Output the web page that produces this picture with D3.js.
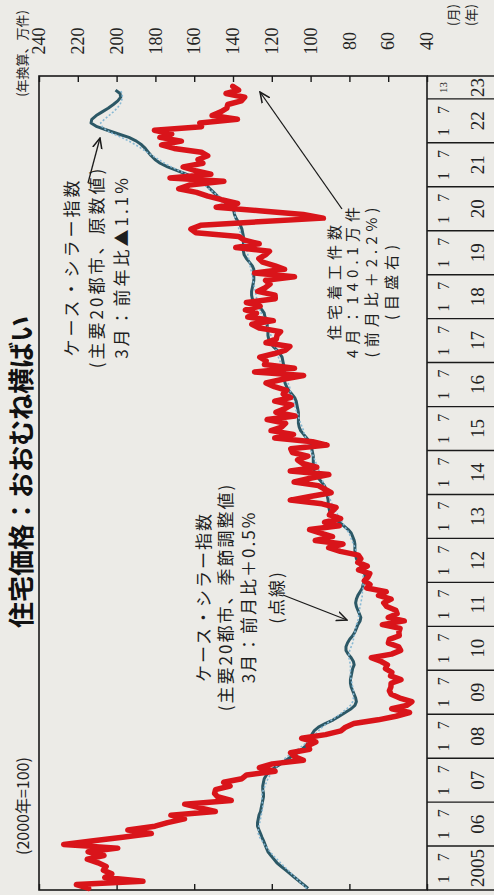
<!DOCTYPE html>
<html>
<head>
<meta charset="utf-8">
<script src="https://cdn.jsdelivr.net/npm/d3@7"></script>
<style>
  body { margin: 0; background: #ecebe7; }
  svg { display: block; }
</style>
</head>
<body>
<svg id="chart"></svg>
<script>
// housing starts, annualised, 万件 (monthly from 2005-01)
const housingStarts = [
  214.4, 220.7, 186.4, 206.1, 202.5, 206.8, 205.4, 209.5, 215.1, 206.5, 214.7, 199.4,
  227.3, 211.9, 196.9, 182.1, 194.2, 180.2, 173.7, 165.0, 172.0, 149.1, 157.0, 164.9,
  140.9, 148.0, 149.5, 149.0, 141.5, 144.8, 135.4, 133.0, 118.3, 126.4, 119.7, 103.7,
  108.4, 110.3, 100.5, 101.3, 97.3, 104.6, 92.3, 84.4, 82.0, 77.7, 65.2, 56.0,
  49.0, 58.2, 50.5, 47.8, 54.0, 58.5, 59.4, 58.6, 58.5, 53.4, 58.8, 58.1,
  61.4, 60.4, 63.6, 68.7, 58.3, 53.6, 54.6, 59.9, 59.4, 54.3, 54.5, 53.9,
  63.0, 51.7, 60.0, 55.4, 56.1, 60.8, 62.3, 58.5, 65.0, 61.0, 71.1, 69.4,
  72.3, 70.4, 69.5, 75.3, 70.8, 75.7, 74.1, 75.4, 84.7, 90.7, 83.3, 97.6,
  88.7, 95.2, 100.5, 85.2, 92.8, 84.5, 90.3, 88.9, 86.9, 94.1, 110.5, 100.3,
  89.4, 92.8, 96.0, 108.5, 100.2, 90.6, 110.5, 96.8, 104.1, 106.7, 101.4, 109.4,
  110.2, 91.5, 99.0, 118.5, 108.8, 120.4, 114.9, 112.9, 122.4, 108.0, 117.9, 113.2,
  109.8, 118.5, 110.3, 114.1, 112.4, 118.7, 123.0, 114.3, 103.6, 128.9, 108.3, 123.8,
  122.9, 126.2, 119.0, 112.8, 110.7, 123.0, 117.7, 117.3, 115.5, 126.5, 130.3, 119.2,
  132.4, 127.9, 133.6, 126.0, 133.1, 118.2, 118.3, 127.3, 123.4, 120.9, 123.2, 108.3,
  128.9, 113.4, 118.3, 124.7, 126.7, 123.3, 121.2, 138.6, 126.5, 134.1, 137.1, 159.1,
  161.7, 156.7, 127.0, 93.4, 103.8, 126.5, 148.7, 137.6, 145.9, 153.0, 158.8, 168.0,
  162.5, 144.7, 172.5, 151.4, 159.4, 165.7, 155.5, 158.0, 153.0, 156.3, 170.3, 176.8,
  166.6, 177.7, 171.6, 180.5, 156.2, 157.1, 137.7, 150.8, 146.3, 143.2, 142.7, 135.7,
  134.0, 143.6, 137.1, 140.1
];

// Case-Shiller 20 cities, not seasonally adjusted (2000 = 100)
const caseShillerRaw = [
  171, 174, 177, 180, 183, 186, 189, 192, 194, 196, 198, 199,
  200, 201, 202, 203, 204, 205, 205, 204.5, 204, 203, 202.5, 202,
  201.5, 201, 201, 201.5, 201.5, 201, 200.5, 199, 196.5, 193.5, 189.5, 186,
  182, 178, 175, 172.5, 170.5, 169.5, 168.5, 167, 164, 159.5, 154, 150,
  146, 142, 139.5, 138.5, 139, 140, 141, 142, 142.5, 142.5, 142, 141.5,
  141, 140, 140.5, 142, 144, 145.5, 145.5, 144.5, 143, 141, 139.5, 138.5,
  137.5, 136, 135.5, 136.5, 137.5, 138.5, 139, 138.5, 137.5, 136, 134.5, 134,
  133, 132.5, 133, 134, 135.5, 137, 138.5, 139, 139.5, 139.5, 139.5, 140,
  141, 142, 144, 147, 150, 153, 155, 156.5, 157, 157.5, 157.5, 158,
  158.5, 159, 160, 162, 164, 166, 167, 167.5, 167.5, 167.5, 167.5, 168,
  168.5, 169, 170, 172, 174, 176, 177, 177.5, 177.5, 177.5, 177.5, 178,
  178.5, 179, 180, 182, 184, 185.5, 186.5, 187, 187, 187, 187, 187.5,
  188, 188.5, 190, 192, 194.5, 196.5, 197.5, 198, 198, 198.5, 198.5, 199,
  200, 200.5, 202, 204.5, 207, 208.5, 209, 209, 208.5, 208, 207.5, 207.5,
  207.5, 207.5, 208.5, 210.5, 212.5, 214, 214.5, 214.5, 214.5, 214.5, 214.5, 215,
  215.5, 216.5, 218, 219.5, 220.5, 221, 223, 226, 229, 232, 234.5, 237,
  239.5, 242.5, 247, 253, 259, 265.5, 270.5, 274, 276.5, 278.5, 280.5, 283,
  286.5, 291.5, 298.5, 306, 313, 317, 316.5, 313.5, 309.5, 305.5, 302, 299,
  297, 297.5, 300.5
];

// Case-Shiller 20 cities, seasonally adjusted (dotted)
const caseShillerSA = [
  172, 174.5, 177, 179.5, 182, 184.5, 187, 189.5, 192, 194.5, 196.5, 198.5,
  200.5, 202, 203.5, 204.5, 204.5, 204, 203.5, 203, 202.5, 202, 201.5, 201.5,
  202, 202, 202, 201, 200, 199, 198, 196.5, 195, 193, 190.5, 188,
  185, 181.5, 178, 174.5, 171.5, 169, 166.5, 164, 161.5, 158.5, 155, 151.5,
  148, 145, 142.5, 141, 140.5, 140.5, 140.5, 141, 141.5, 142, 142.5, 142.5,
  142.5, 142.5, 143, 143.5, 143.5, 143, 142, 141, 140.5, 140, 139.5, 139,
  138.5, 137.5, 137, 137, 136.5, 136, 135.5, 135, 134.5, 134.5, 134, 134,
  134, 134, 134, 134.5, 135, 135.5, 136.5, 137.5, 138.5, 139.5, 140.5, 141.5,
  142.5, 143.5, 145, 146.5, 148, 149.5, 151, 152.5, 154, 155, 156, 157,
  158, 159, 160, 161, 162, 162.5, 163.5, 164.5, 165.5, 166.5, 167.5, 168.5,
  169.5, 170.5, 171.5, 172.5, 173.5, 174, 175, 176, 177, 177.5, 178.5, 179.5,
  180, 180.5, 181.5, 182.5, 183, 183.5, 184.5, 185, 186, 187, 188, 189,
  190, 191, 191.5, 192.5, 193.5, 194, 195, 196, 197, 198, 199, 200.5,
  201.5, 202.5, 203.5, 204.5, 205, 205.5, 206, 206.5, 207, 207.5, 208, 208.5,
  209, 209.5, 210, 210.5, 211, 211.5, 212, 212.5, 213.5, 214.5, 215.5, 216.5,
  217.5, 218.5, 219.5, 220, 220, 220.5, 222.5, 225.5, 228.5, 231.5, 234.5, 237.5,
  240.5, 244, 248.5, 253, 258, 263, 267.5, 271.5, 275.5, 279.5, 283, 287,
  291.5, 296.5, 302, 306.5, 309.5, 310.5, 308, 305, 302, 299.5, 297.5, 296.5,
  296, 296, 297.5
];

const yearLabels = ["2005", "06", "07", "08", "09", "10", "11", "12", "13", "14",
                    "15", "16", "17", "18", "19", "20", "21", "22", "23"];
const monthLabels = ["1", "7"];
const lastMonthLabel = "13";
const rightTicks = [40, 60, 80, 100, 120, 140, 160, 180, 200, 220, 240];

// the chart is built landscape and turned a quarter turn to the left
const W = 895, H = 494;
const plot = { left: 5, right: 819, top: 39, bottom: 427 };
const jp = "'Noto Sans CJK JP', sans-serif";
const num = "'Liberation Serif', 'DejaVu Serif', serif";

const svg = d3.select("#chart").attr("width", H).attr("height", W);
svg.append("rect").attr("width", H).attr("height", W).attr("fill", "#ecebe7");

const g = svg.append("g").attr("transform", `translate(0,${W}) rotate(-90)`);

const x = d3.scaleTime()
  .domain([new Date(2005, 0, 1), new Date(2023, 6, 10)])
  .range([plot.left, plot.right]);
const yR = d3.scaleLinear().domain([40, 240]).range([plot.bottom, plot.top]);
const yL = d3.scaleLinear().domain([91, 352]).range([plot.bottom, plot.top]);

const monthDate = i => new Date(2005, i, 15);

// frame
g.append("rect")
  .attr("x", plot.left).attr("y", plot.top)
  .attr("width", plot.right - plot.left).attr("height", plot.bottom - plot.top)
  .attr("fill", "none").attr("stroke", "#1a1a1a").attr("stroke-width", 1.6);

// right axis (housing starts)
const rAxis = g.append("g")
  .attr("transform", `translate(${plot.right},0)`)
  .call(d3.axisRight(yR).tickValues(rightTicks).tickSizeInner(-6).tickSizeOuter(0).tickPadding(35));
rAxis.select(".domain").remove();
rAxis.selectAll("line").attr("stroke", "#1a1a1a").attr("stroke-width", 1.4);
rAxis.selectAll("text")
  .attr("text-anchor", "middle")
  .style("font-family", num).style("font-size", "18px").attr("fill", "#222");

// left axis (index), labels fall outside the picture
const leftTicks = [40, 80, 120, 160, 200, 240].map(v => yL.invert(yR(v)));
const lAxis = g.append("g")
  .attr("transform", `translate(${plot.left},0)`)
  .call(d3.axisLeft(yL).tickValues(leftTicks).tickSizeInner(-6).tickSizeOuter(0).tickFormat(""));
lAxis.select(".domain").remove();
lAxis.selectAll("line").attr("stroke", "#1a1a1a").attr("stroke-width", 1.4);

// date table under the plot
const years = d3.range(2005, 2024);
const table = g.append("g");
years.forEach((yr, i) => {
  const x0 = x(new Date(yr, 0, 1));
  const x1 = Math.min(x(new Date(yr + 1, 0, 1)), plot.right);
  table.append("line")
    .attr("x1", x0).attr("x2", x0).attr("y1", plot.bottom).attr("y2", H)
    .attr("stroke", "#1a1a1a").attr("stroke-width", 1.4);
  table.append("text")
    .attr("x", (x0 + x1) / 2).attr("y", 477)
    .attr("text-anchor", "middle").attr("dominant-baseline", "central")
    .style("font-family", num).style("font-size", "19px").attr("fill", "#222")
    .text(yearLabels[i]);
  if (yr < 2023) {
    [3, 9].forEach((m, k) => {
      table.append("text")
        .attr("x", x(new Date(yr, m, 1))).attr("y", 443)
        .attr("text-anchor", "middle").attr("dominant-baseline", "central")
        .style("font-family", num).style("font-size", "16px").attr("fill", "#222")
        .text(monthLabels[k]);
    });
  } else {
    table.append("text")
      .attr("x", (x0 + x1) / 2).attr("y", 443)
      .attr("text-anchor", "middle").attr("dominant-baseline", "central")
      .style("font-family", num).style("font-size", "11px").attr("fill", "#222")
      .text(lastMonthLabel);
  }
});
table.append("line")
  .attr("x1", plot.right).attr("x2", plot.right).attr("y1", plot.bottom).attr("y2", H)
  .attr("stroke", "#1a1a1a").attr("stroke-width", 1.4);

// lines
const lineL = d3.line().x((d, i) => x(monthDate(i))).y(d => yL(d));
const lineR = d3.line().x((d, i) => x(monthDate(i))).y(d => yR(d));

g.append("path").datum(caseShillerRaw)
  .attr("d", lineL).attr("fill", "none")
  .attr("stroke", "#2c5866").attr("stroke-width", 3).attr("stroke-linejoin", "round");
g.append("path").datum(caseShillerSA)
  .attr("d", lineL).attr("fill", "none")
  .attr("stroke", "#86b8d4").attr("stroke-width", 1.6).attr("stroke-dasharray", "2,2");
g.append("path").datum(housingStarts)
  .attr("d", lineR).attr("fill", "none")
  .attr("stroke", "#d9141a").attr("stroke-width", 5.5)
  .attr("stroke-linejoin", "round").attr("stroke-linecap", "round");

// titles
g.append("text")
  .attr("x", 423).attr("y", 19)
  .attr("text-anchor", "middle").attr("dominant-baseline", "central")
  .style("font-family", jp).style("font-size", "26px").style("font-weight", "700")
  .attr("fill", "#111")
  .text("住宅価格：おおむね横ばい");
g.append("text")
  .attr("x", 40).attr("y", 22)
  .attr("dominant-baseline", "central")
  .style("font-family", jp).style("font-size", "16px").attr("fill", "#222")
  .text("(2000年=100)");
g.append("text")
  .attr("x", 885).attr("y", 21)
  .attr("text-anchor", "end").attr("dominant-baseline", "central")
  .style("font-family", jp).style("font-size", "13px").attr("fill", "#222")
  .text("(年換算、万件)");
g.append("text")
  .attr("x", 880).attr("y", 452)
  .attr("text-anchor", "middle").attr("dominant-baseline", "central")
  .style("font-family", jp).style("font-size", "13px").attr("fill", "#222")
  .text("(月)");
g.append("text")
  .attr("x", 880).attr("y", 470)
  .attr("text-anchor", "middle").attr("dominant-baseline", "central")
  .style("font-family", jp).style("font-size", "13px").attr("fill", "#222")
  .text("(年)");

// annotations
g.append("defs").append("marker")
  .attr("id", "head").attr("viewBox", "0 0 10 10")
  .attr("refX", 9).attr("refY", 5)
  .attr("markerWidth", 9).attr("markerHeight", 9)
  .attr("orient", "auto")
  .append("path").attr("d", "M0,1 L9,5 L0,9").attr("fill", "none")
  .attr("stroke", "#1a1a1a").attr("stroke-width", 1.3);

function note(lines, cx, ys, size, spacing) {
  const t = g.append("text")
    .attr("text-anchor", "middle")
    .style("font-family", jp).style("font-size", size + "px")
    .style("letter-spacing", spacing + "px").attr("fill", "#1e1e1e");
  lines.forEach((s, i) => {
    t.append("tspan").attr("x", cx).attr("y", ys[i])
      .attr("dominant-baseline", "central").text(s);
  });
}
function arrow(x1, y1, x2, y2) {
  g.append("line")
    .attr("x1", x1).attr("y1", y1).attr("x2", x2).attr("y2", y2)
    .attr("stroke", "#1a1a1a").attr("stroke-width", 1.3)
    .attr("marker-end", "url(#head)");
}

note(["ケース・シラー指数", "(主要20都市、原数値)", "3月：前年比▲1.1%"],
  628, [70, 95, 120], 17, 3);
arrow(712, 88, 757, 100);

note(["ケース・シラー指数", "(主要20都市、季節調整値)", "3月：前月比＋0.5%", "(点線)"],
  298, [202, 224, 247, 275], 17, 2);
arrow(300, 283, 275, 347);

note(["住宅着工件数", "4月：140.1万件", "(前月比＋2.2%)", "(目盛右)"],
  615, [333, 351, 370, 390], 15, 5);
arrow(686, 342, 803, 260);
</script>
</body>
</html>
